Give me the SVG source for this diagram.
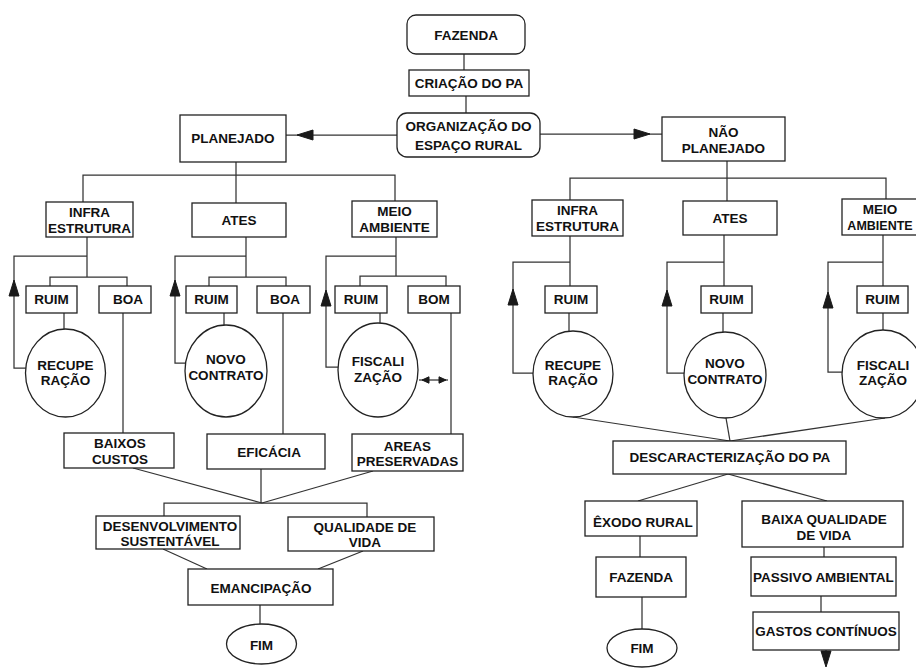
<svg xmlns="http://www.w3.org/2000/svg" xmlns:xlink="http://www.w3.org/1999/xlink" width="916" height="668" viewBox="0 0 916 668">
<defs>
<style>
.b{fill:#fff;stroke:#222;stroke-width:1.3}
.t{font-family:"Liberation Sans",Arial,sans-serif;font-weight:bold;font-size:13.5px;fill:#111;text-anchor:middle}
.c line,.c polyline{stroke:#333;stroke-width:1.25;fill:none}
.ah{fill:#1a1a1a;stroke:#1a1a1a;stroke-width:1}
</style>
<path id="ah" d="M0,0 L-16,-5 L-16,5 Z"/>
<path id="sah" d="M0,0 L-7,-3.2 L-7,3.2 Z"/>
</defs>
<rect width="916" height="668" fill="#fff"/>

<g id="connectors" class="c">
<line x1="464" y1="54" x2="464" y2="70"/>
<line x1="466" y1="96" x2="466" y2="113"/>
<line x1="397" y1="135" x2="286" y2="135"/>
<line x1="540" y1="134" x2="662" y2="134"/>
<line x1="236" y1="162" x2="236" y2="175"/>
<polyline points="83,202 83,175 395,175 395,201"/>
<line x1="236" y1="175" x2="236" y2="203"/>
<line x1="87" y1="237" x2="87" y2="277"/>
<polyline points="50,286 50,277 127,277 127,286"/>
<polyline points="87,256 14,256 14,368 26,368"/>
<line x1="64" y1="313" x2="64" y2="329"/>
<line x1="123" y1="313" x2="123" y2="433"/>
<line x1="246" y1="237" x2="246" y2="277"/>
<polyline points="209,286 209,277 286,277 286,286"/>
<polyline points="246,256 175,256 175,363 185,363"/>
<line x1="224" y1="313" x2="224" y2="325"/>
<line x1="283" y1="313" x2="283" y2="434"/>
<line x1="396" y1="237" x2="396" y2="276"/>
<polyline points="360,286 360,276 446,276 446,286"/>
<polyline points="396,256 326,256 326,367 338,367"/>
<line x1="380" y1="313" x2="380" y2="323"/>
<line x1="451" y1="313" x2="451" y2="434"/>
<line x1="419" y1="380" x2="448" y2="380"/>
<line x1="133" y1="468" x2="262" y2="503"/>
<line x1="261" y1="469" x2="261" y2="503"/>
<line x1="373" y1="471" x2="262" y2="503"/>
<polyline points="164,516 164,503 367,503 367,517"/>
<line x1="163" y1="549" x2="207" y2="569"/>
<line x1="363" y1="551" x2="318" y2="569"/>
<line x1="260" y1="605" x2="260" y2="624"/>
<line x1="727" y1="161" x2="727" y2="178"/>
<polyline points="570,200 570,178 886,178 886,199"/>
<line x1="727" y1="178" x2="727" y2="201"/>
<line x1="570" y1="236" x2="570" y2="286"/>
<polyline points="570,262 513,262 513,373 533,373"/>
<line x1="569" y1="313" x2="569" y2="331"/>
<line x1="724" y1="235" x2="724" y2="286"/>
<polyline points="724,262 667,262 667,373 684,373"/>
<line x1="723" y1="313" x2="723" y2="332"/>
<line x1="883" y1="235" x2="883" y2="286"/>
<polyline points="883,262 828,262 828,372 843,372"/>
<line x1="883" y1="313" x2="883" y2="330"/>
<line x1="573" y1="417" x2="730" y2="441"/>
<line x1="726" y1="418" x2="730" y2="441"/>
<line x1="885" y1="418" x2="730" y2="441"/>
<line x1="728" y1="474" x2="638" y2="501"/>
<line x1="728" y1="474" x2="827" y2="501"/>
<line x1="640" y1="536" x2="640" y2="557"/>
<line x1="642" y1="597" x2="642" y2="629"/>
<line x1="824" y1="547" x2="824" y2="557"/>
<line x1="821" y1="596" x2="821" y2="612"/>
<line x1="826" y1="650" x2="826" y2="660"/>
<use xlink:href="#ah" class="ah" transform="translate(297,135) rotate(180)"/>
<use xlink:href="#ah" class="ah" transform="translate(650,134)"/>
<use xlink:href="#ah" class="ah" transform="translate(14,280) rotate(-90)"/>
<use xlink:href="#ah" class="ah" transform="translate(175,280) rotate(-90)"/>
<use xlink:href="#ah" class="ah" transform="translate(326,290) rotate(-90)"/>
<use xlink:href="#ah" class="ah" transform="translate(513,289) rotate(-90)"/>
<use xlink:href="#ah" class="ah" transform="translate(667,290) rotate(-90)"/>
<use xlink:href="#ah" class="ah" transform="translate(828,292) rotate(-90)"/>
<use xlink:href="#ah" class="ah" transform="translate(826,667) rotate(90)"/>
<use xlink:href="#sah" class="ah" transform="translate(422,380) rotate(180)"/>
<use xlink:href="#sah" class="ah" transform="translate(446,380)"/>
</g>

<g id="n-fazenda"><rect class="b" x="407" y="15" width="118" height="39" rx="9"/><text class="t" x="466" y="40">FAZENDA</text></g>
<g id="n-criacao"><rect class="b" x="409" y="70" width="120" height="26"/><text class="t" x="469" y="88">CRIAÇÃO DO PA</text></g>
<g id="n-organizacao"><rect class="b" x="397" y="113" width="143" height="44" rx="10"/><text class="t" x="468.5" y="131">ORGANIZAÇÃO DO<tspan x="468.5" y="150">ESPAÇO RURAL</tspan></text></g>
<g id="n-planejado"><rect class="b" x="180" y="115" width="106" height="47"/><text class="t" x="233" y="143">PLANEJADO</text></g>
<g id="n-naoplanejado"><rect class="b" x="662" y="117" width="123" height="44"/><text class="t" x="723.5" y="137">NÃO<tspan x="723.5" y="153">PLANEJADO</tspan></text></g>

<g id="n-infra-l"><rect class="b" x="46" y="202" width="87" height="35"/><text class="t" x="89.5" y="217">INFRA<tspan x="89.5" y="233">ESTRUTURA</tspan></text></g>
<g id="n-ates-l"><rect class="b" x="192" y="203" width="94" height="34"/><text class="t" x="239" y="225">ATES</text></g>
<g id="n-meio-l"><rect class="b" x="352" y="201" width="85" height="36"/><text class="t" x="394.5" y="216">MEIO<tspan x="394.5" y="232">AMBIENTE</tspan></text></g>

<g id="n-ruim1"><rect class="b" x="26" y="286" width="51" height="27"/><text class="t" x="51.5" y="304">RUIM</text></g>
<g id="n-boa1"><rect class="b" x="99" y="286" width="52" height="27"/><text class="t" x="128" y="304">BOA</text></g>
<g id="n-ruim2"><rect class="b" x="186" y="286" width="51" height="27"/><text class="t" x="211.5" y="304">RUIM</text></g>
<g id="n-boa2"><rect class="b" x="257" y="286" width="53" height="27"/><text class="t" x="285" y="304">BOA</text></g>
<g id="n-ruim3"><rect class="b" x="335" y="286" width="52" height="27"/><text class="t" x="361" y="304">RUIM</text></g>
<g id="n-bom3"><rect class="b" x="408" y="286" width="52" height="27"/><text class="t" x="434" y="304">BOM</text></g>

<g id="n-recup-l"><ellipse class="b" cx="65.5" cy="373" rx="40" ry="44"/><text class="t" x="65.5" y="370">RECUPE<tspan x="65.5" y="385">RAÇÃO</tspan></text></g>
<g id="n-novo-l"><ellipse class="b" cx="226" cy="371" rx="41" ry="46"/><text class="t" x="226" y="364">NOVO<tspan x="226" y="380">CONTRATO</tspan></text></g>
<g id="n-fisc-l"><ellipse class="b" cx="378" cy="370" rx="40" ry="47"/><text class="t" x="378" y="366">FISCALI<tspan x="378" y="382">ZAÇÃO</tspan></text></g>

<g id="n-baixos"><rect class="b" x="64" y="433" width="110" height="35"/><text class="t" x="120" y="448">BAIXOS<tspan x="120" y="464">CUSTOS</tspan></text></g>
<g id="n-eficacia"><rect class="b" x="207" y="434" width="118" height="35"/><text class="t" x="269" y="457">EFICÁCIA</text></g>
<g id="n-areas"><rect class="b" x="352" y="434" width="111" height="37"/><text class="t" x="407.5" y="451">AREAS<tspan x="407.5" y="466">PRESERVADAS</tspan></text></g>
<g id="n-desenv"><rect class="b" x="96" y="516" width="144" height="33"/><text class="t" x="170" y="531">DESENVOLVIMENTO<tspan x="170" y="546">SUSTENTÁVEL</tspan></text></g>
<g id="n-qualidade"><rect class="b" x="288" y="517" width="146" height="34"/><text class="t" x="365" y="532">QUALIDADE DE<tspan x="365" y="547">VIDA</tspan></text></g>
<g id="n-emancipacao"><rect class="b" x="188" y="569" width="145" height="36"/><text class="t" x="261" y="593">EMANCIPAÇÃO</text></g>
<g id="n-fim-l"><ellipse class="b" cx="261.5" cy="644" rx="35" ry="20"/><text class="t" x="261.5" y="650">FIM</text></g>

<g id="n-infra-r"><rect class="b" x="532" y="200" width="91" height="36"/><text class="t" x="577.5" y="215">INFRA<tspan x="577.5" y="231">ESTRUTURA</tspan></text></g>
<g id="n-ates-r"><rect class="b" x="683" y="201" width="94" height="34"/><text class="t" x="730" y="223">ATES</text></g>
<g id="n-meio-r"><rect class="b" x="842" y="199" width="90" height="36"/><text class="t" x="880" y="214">MEIO<tspan x="880" y="230" style="font-size:12.5px">AMBIENTE</tspan></text></g>

<g id="n-ruim4"><rect class="b" x="545" y="286" width="52" height="27"/><text class="t" x="571" y="304">RUIM</text></g>
<g id="n-ruim5"><rect class="b" x="701" y="286" width="51" height="27"/><text class="t" x="726.5" y="304">RUIM</text></g>
<g id="n-ruim6"><rect class="b" x="857" y="286" width="51" height="27"/><text class="t" x="882.5" y="304">RUIM</text></g>

<g id="n-recup-r"><ellipse class="b" cx="573" cy="374" rx="40" ry="43"/><text class="t" x="573" y="370">RECUPE<tspan x="573" y="385">RAÇÃO</tspan></text></g>
<g id="n-novo-r"><ellipse class="b" cx="725" cy="375" rx="41" ry="43"/><text class="t" x="725" y="368">NOVO<tspan x="725" y="384">CONTRATO</tspan></text></g>
<g id="n-fisc-r"><ellipse class="b" cx="883" cy="374" rx="41" ry="44"/><text class="t" x="883" y="370">FISCALI<tspan x="883" y="385">ZAÇÃO</tspan></text></g>

<g id="n-descar"><rect class="b" x="613" y="441" width="233" height="33"/><text class="t" x="730" y="462">DESCARACTERIZAÇÃO DO PA</text></g>
<g id="n-exodo"><rect class="b" x="585" y="501" width="112" height="35"/><text class="t" x="643" y="527">ÊXODO RURAL</text></g>
<g id="n-baixa"><rect class="b" x="742" y="501" width="161" height="46"/><text class="t" x="824" y="524">BAIXA QUALIDADE<tspan x="824" y="540">DE VIDA</tspan></text></g>
<g id="n-fazenda-r"><rect class="b" x="596" y="557" width="90" height="40"/><text class="t" x="641" y="582">FAZENDA</text></g>
<g id="n-fim-r"><ellipse class="b" cx="642" cy="648" rx="35" ry="19"/><text class="t" x="642" y="653">FIM</text></g>
<g id="n-passivo"><rect class="b" x="751" y="557" width="145" height="39"/><text class="t" x="823.5" y="582">PASSIVO AMBIENTAL</text></g>
<g id="n-gastos"><rect class="b" x="753" y="612" width="146" height="38"/><text class="t" x="826" y="636">GASTOS CONTÍNUOS</text></g>
</svg>
